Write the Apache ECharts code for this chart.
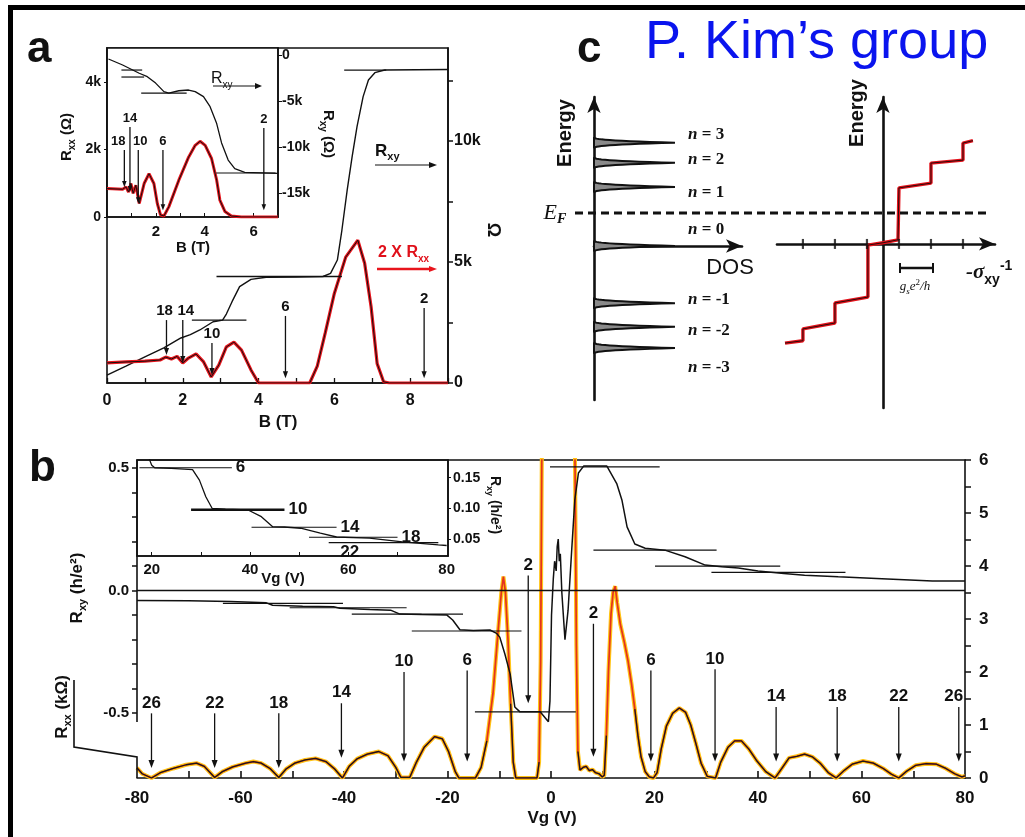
<!DOCTYPE html>
<html>
<head>
<meta charset="utf-8">
<style>
  html, body { margin: 0; padding: 0; background: #fff; }
  #chart { width: 1025px; height: 837px; }
</style>
<script src="https://cdn.jsdelivr.net/npm/echarts@6/dist/echarts.min.js"></script>
</head>
<body>
<div id="chart"></div>
<script>
// ---------------- Panel a: main trace (B in T, resistance in ohm) ----------------
const A_B_RXY = [0, 0.5, 1.0, 1.5, 1.95, 2.2, 2.45, 2.8, 2.95, 3.05, 3.15, 3.3, 3.5, 3.8, 4.2, 5.0, 5.7, 5.9, 6.08, 6.2, 6.34, 6.47, 6.6, 6.76, 6.9, 7.07, 7.33, 9.0];
const A_RXY   = [330, 700, 1080, 1450, 1860, 2000, 2190, 2530, 2570, 2600, 2850, 3360, 3980, 4280, 4370, 4380, 4400, 4530, 5080, 6320, 7980, 9350, 10600, 11830, 12520, 12820, 12930, 12950];
const A_B_RXX = [0, 0.5, 1.0, 1.4, 1.55, 1.7, 1.85, 2.0, 2.15, 2.35, 2.55, 2.75, 2.95, 3.15, 3.35, 3.55, 3.8, 4.0, 5.35, 5.55, 5.76, 6.0, 6.3, 6.62, 6.8, 6.97, 7.13, 7.3, 7.45, 9.0];
const A_RXX_X2 = [830, 870, 900, 950, 1070, 990, 1100, 830, 1030, 1200, 870, 250, 740, 1490, 1690, 1360, 540, 0, 0, 700, 2070, 3700, 5200, 5900, 4950, 3150, 800, 50, 0, 0];
// plateau markers [B start, B end, R]
const A_PLATEAUS = [[2.24, 3.68, 2600], [2.89, 6.2, 4400], [6.26, 7.37, 12930]];
// filling-factor arrows [B, R top, R tip]
const A_ARROWS = [[1.57, 2600, 1160], [2.0, 2600, 830], [2.77, 1650, 330], [4.71, 2770, 200], [8.37, 3100, 200]];
const A_ARROW_LABELS = ['18', '14', '10', '6', '2'];
const A_X_TICKS = [0, 1, 2, 3, 4, 5, 6, 7, 8, 9];
const A_X_LABELS = [0, 2, 4, 6, 8];
const A_Y_TICKS = [0, 2500, 5000, 7500, 10000, 12500];
const A_Y_LABELS = [0, 5000, 10000];

// ---------------- Panel a: inset ----------------
const AI_B_RXY = [0.06, 0.64, 1.32, 1.65, 1.99, 2.33, 2.53, 2.94, 3.34, 3.61, 3.95, 4.22, 4.49, 4.69, 4.96, 5.23, 5.64, 7.0];
const AI_RXY   = [-380, -1030, -1930, -2300, -3000, -3930, -4100, -3830, -3750, -3930, -4470, -5560, -7400, -9500, -11360, -12300, -12700, -12800];
const AI_B_RXX = [0.0, 0.64, 0.78, 0.88, 0.98, 1.07, 1.18, 1.32, 1.52, 1.72, 1.92, 2.06, 2.19, 2.33, 2.53, 2.94, 3.34, 3.61, 3.81, 4.02, 4.28, 4.49, 4.62, 4.83, 5.09, 5.5, 7.0];
const AI_RXX   = [840, 820, 890, 740, 990, 700, 940, 400, 990, 1280, 990, 400, 60, 30, 300, 1090, 1770, 2120, 2240, 2120, 1730, 1090, 500, 160, 30, 0, 0];
const AI_PLATEAUS = [[0.59, 1.44, -1580], [0.59, 1.52, -2340], [1.4, 3.26, -4080], [4.47, 6.9, -12770]];
const AI_ARROWS = [[0.71, 1980, 890], [0.94, 2660, 740], [1.28, 1980, 410], [2.29, 1980, 200], [6.42, 2630, 200]];
const AI_ARROW_LABELS = ['18', '14', '10', '6', '2'];
const AI_X_TICKS = [1, 2, 3, 4, 5, 6];
const AI_X_LABELS = [2, 4, 6];
const AI_L_LABELS = [0, 2000, 4000];
const AI_R_LABELS = [0, -5000, -10000, -15000];

// ---------------- Panel c: Landau levels and Hall staircase ----------------
const DOS_LEVELS = [1.75, 1.41, 1.0, 0, -0.97, -1.37, -1.73];
const DOS_LEVEL_NAMES = ['3', '2', '1', '0', '-1', '-2', '-3'];
const STAIR_X = [-3.06, -2.5, -2.5, -1.5, -1.5, -0.47, -0.47, 0, 0.47, 0.5, 1.5, 1.5, 2.5, 2.5, 2.81];
const STAIR_E = [-1.68, -1.64, -1.44, -1.34, -1.0, -0.9, -0.02, 0.02, 0.07, 0.95, 1.03, 1.37, 1.42, 1.71, 1.75];
const STAIR_TICKS = [-2.5, -1.5, -0.5, 0.5, 1.5, 2.5];

// ---------------- Panel b: gate sweep (Vg in V) ----------------
const B_VG_RXX = [-80, -79, -77.2, -75.5, -73, -70.5, -68.5, -67, -65,
  -63.5, -61.5, -59, -57.5, -56, -54.3, -52.6,
  -51.2, -49.5, -47.5, -45.5, -43.5, -41.8, -40.3,
  -39, -37.5, -35.5, -33.3, -31.5, -30, -29, -27.3,
  -26, -24.5, -22.5, -21, -19.8, -18.5, -17.8, -14.6,
  -13.5, -12.4, -11.2, -10.2, -9.6, -9.2, -8.8, -8.3, -7.8, -7.3, -6.8,
  -2.7, -2.3, -2.0, -1.75, -1.5, 1.5, 4.3, 4.6, 4.9, 5.2, 5.6,
  6.2, 6.8, 7.4, 8.0, 8.6, 9.3, 9.9, 10.3, 10.7, 11.1, 11.6, 12.0, 12.4, 12.8, 13.4, 14.2, 14.9, 15.6, 16.2, 16.8, 17.4, 18.2, 19.0, 19.8,
  20.5, 21.3, 22.3, 23.5, 24.8, 26, 27, 28, 29, 30.2, 31.8,
  32.8, 34.2, 35.5, 36.8, 38.2, 39.8, 41.5, 43.3,
  44.6, 46, 47.5, 49, 50.5, 52, 53.6, 55.1,
  56.5, 58.2, 60.3, 62.3, 64.2, 65.8, 67.2,
  68.6, 70.5, 72.5, 74.5, 76.3, 78, 79.4, 80];
const B_RXX = [0.19, 0.08, 0.0, 0.1, 0.18, 0.25, 0.28, 0.22, 0.01,
  0.12, 0.21, 0.28, 0.31, 0.28, 0.18, 0.01,
  0.17, 0.28, 0.34, 0.37, 0.31, 0.17, 0.0,
  0.22, 0.36, 0.45, 0.5, 0.42, 0.2, 0.01, 0.01,
  0.3, 0.58, 0.78, 0.74, 0.5, 0.12, 0.0, 0.0,
  0.2, 0.7, 1.6, 2.8, 3.5, 3.8, 3.5, 2.6, 1.4, 0.3, 0.0,
  0.0, 0.3, 2.2, 6.5, 12, 14, 12, 6.5, 2.5, 0.5, 0.15,
  0.2, 0.22, 0.14, 0.16, 0.1, 0.08, 0.02, 0.05, 0.8, 2.0, 3.1, 3.5, 3.62, 3.3, 2.9, 2.55, 2.2, 1.75, 1.3, 0.8, 0.4, 0.12, 0.02, 0.0,
  0.1, 0.55, 0.98, 1.22, 1.32, 1.24, 1.0, 0.65, 0.28, 0.03, 0.0,
  0.3, 0.58, 0.7, 0.7, 0.55, 0.32, 0.12, 0.0,
  0.18, 0.38, 0.41, 0.45, 0.4, 0.28, 0.1, 0.0,
  0.13, 0.26, 0.32, 0.28, 0.18, 0.07, 0.0,
  0.12, 0.24, 0.27, 0.26, 0.18, 0.08, 0.02, 0.04];
const B_VG_RXY = [-80, -70, -62, -55, -53.8, -48, -42, -40.8, -35, -31, -29.2, -25, -20.1, -19, -17.6, -15, -11.8, -10.5, -9.9, -8.9, -7.9, -7, -6, -2.1, -0.5, -0.2, 0.1, 0.45, 0.7, 1.0, 1.2, 1.4, 1.6, 1.8, 2.1, 2.7, 3.3, 4.0, 4.6, 5.3, 6.3, 10.8, 12.7, 13.7, 14.7, 16.2, 18.2, 22, 25.9, 29.8, 33, 36.2, 40, 45, 49, 55.5, 65, 73.7, 80];
const B_RXY = [-0.04, -0.042, -0.045, -0.05, -0.06, -0.064, -0.066, -0.072, -0.077, -0.08, -0.096, -0.098, -0.1, -0.12, -0.16, -0.163, -0.161, -0.175, -0.19, -0.26, -0.34, -0.475, -0.495, -0.495, -0.535, -0.45, -0.1, 0.05, 0.12, 0.08, 0.18, 0.21, 0.12, 0.15, -0.01, -0.2, -0.08, 0.165, 0.37, 0.48, 0.508, 0.508, 0.437, 0.37, 0.26, 0.19, 0.173, 0.165, 0.138, 0.104, 0.097, 0.092, 0.08, 0.07, 0.063, 0.056, 0.047, 0.039, 0.039];
const B_PLATEAUS = [[-63.4, -40.2, -0.052], [-50.5, -27.9, -0.07], [-38.5, -17, -0.096], [-26.9, -5.7, -0.165], [-14.7, 4.8, -0.495],
  [-0.2, 21, 0.505], [8.2, 32, 0.165], [20.1, 44.3, 0.1], [31, 56.9, 0.074]];
const B_ARROWS = [[-77.2, 1.22, 0.19], [-65, 1.22, 0.19], [-52.6, 1.22, 0.19], [-40.5, 1.41, 0.38], [-28.4, 2.0, 0.31], [-16.2, 2.03, 0.31], [-4.4, 3.82, 1.41],
  [8.2, 2.91, 0.4], [19.3, 2.03, 0.31], [31.7, 2.05, 0.31], [43.5, 1.34, 0.31], [55.3, 1.34, 0.31], [67.2, 1.34, 0.31], [78.8, 1.34, 0.31]];
const B_ARROW_LABELS = ['26', '22', '18', '14', '10', '6', '2', '2', '6', '10', '14', '18', '22', '26'];
const B_X_TICKS = [-70, -60, -50, -40, -30, -20, -10, 0, 10, 20, 30, 40, 50, 60, 70];
const B_X_LABELS = [-80, -60, -40, -20, 0, 20, 40, 60, 80];
const B_L_TICKS = [-0.5, -0.4, -0.3, -0.2, -0.1, 0, 0.1, 0.2, 0.3, 0.4, 0.5];
const B_L_LABELS = [-0.5, 0, 0.5];
const B_R_TICKS = [0, 0.5, 1, 1.5, 2, 2.5, 3, 3.5, 4, 4.5, 5, 5.5, 6];
const B_R_LABELS = [0, 1, 2, 3, 4, 5, 6];

// ---------------- Panel b: inset (electron side) ----------------
const BI_VG = [19.2, 19.6, 20.0, 20.6, 24, 28.3, 29.7, 31, 32.3, 35, 39.6, 42.3, 44.6, 47, 50.3, 54.3, 57.6, 64.3, 71, 78.3, 80];
const BI_RXY = [0.19, 0.178, 0.17, 0.166, 0.165, 0.163, 0.146, 0.119, 0.1, 0.099, 0.0976, 0.0867, 0.0705, 0.07, 0.068, 0.06, 0.0538, 0.052, 0.046, 0.041, 0.04];
const BI_PLATEAUS = [[17.5, 36.3, 0.166], [28, 47, 0.098], [40.3, 57.6, 0.0695], [52, 70, 0.0533], [56, 78.3, 0.0446]];
const BI_PLATEAU_LABELS = ['6', '10', '14', '18', '22'];
const BI_X_TICKS = [20, 30, 40, 50, 60, 70];
const BI_X_LABELS = [20, 40, 60, 80];
const BI_Y_LABELS = [0.05, 0.10, 0.15];

// ---------------- helpers ----------------
const FONT = '"Liberation Sans", Arial, sans-serif';
const SERIF = '"Liberation Serif", "DejaVu Serif", serif';
const zip = (xs, ys) => xs.map((x, i) => [x, ys[i]]);
const kFmt = v => (v === 0 ? '0' : (v / 1000) + 'k');
// thin dark core of the Rxx trace, dropped where the trace is tall (there it is red)
const CORE_LIMIT = 1.6;
// horizontal nudges (px) for crowded arrow labels
const A_LABEL_DX = [-2, 3, 0, 0, 0];
const AI_LABEL_DX = [-6, 0, 2, 0, 0];
const B_LABEL_DX = [0, 0, 0, 0, 0, 0, 0, 0, 0, 0, 0, 0, 0, -5];

function segmentRenderer(width, labels, labelFont) {
  return function (params, api) {
    const y = api.value(2);
    const p1 = api.coord([api.value(0), y]);
    const p2 = api.coord([api.value(1), y]);
    const lbl = labels ? labels[params.dataIndex] : null;
    const w = (lbl === '10') ? 2.6 : width;
    const kids = [{ type: 'line', shape: { x1: p1[0], y1: p1[1], x2: p2[0], y2: p2[1] }, style: { stroke: '#111', lineWidth: w } }];
    if (lbl) {
      const below = lbl === '22';
      kids.push({
        type: 'text',
        x: below ? p2[0] - 98 : p2[0] + 4,
        y: below ? p1[1] + 1 : p1[1],
        style: { text: lbl, font: labelFont, fill: '#111', align: 'left', verticalAlign: below ? 'top' : 'middle' }
      });
    }
    return { type: 'group', children: kids };
  };
}

function arrowRenderer(labels, dx, labelFont, head, half) {
  return function (params, api) {
    const x = api.value(0);
    const p1 = api.coord([x, api.value(1)]);
    const p2 = api.coord([x, api.value(2)]);
    return {
      type: 'group',
      children: [
        { type: 'line', shape: { x1: p1[0], y1: p1[1], x2: p2[0], y2: p2[1] - head + 1 }, style: { stroke: '#111', lineWidth: 1.3 } },
        { type: 'polygon', shape: { points: [[p2[0] - half, p2[1] - head], [p2[0] + half, p2[1] - head], [p2[0], p2[1]]] }, style: { fill: '#111' } },
        { type: 'text', x: p1[0] + dx[params.dataIndex], y: p1[1] - 2, style: { text: labels[params.dataIndex], font: labelFont, fill: '#111', align: 'center', verticalAlign: 'bottom' } }
      ]
    };
  };
}

// spike-shaped density of states for one Landau level
const DOS_PEAK_LEN = 0.547;
const DOS_HALF_W = 0.095;
function dosPeak(params, api) {
  const e = api.value(1);
  const pts = [];
  const n = 30;
  for (let i = 0; i <= n; i++) {
    const t = -1 + 2 * i / n;
    pts.push(api.coord([DOS_PEAK_LEN * Math.pow(1 - Math.abs(t), 2.6), e + t * DOS_HALF_W]));
  }
  return { type: 'polygon', shape: { points: pts }, style: { fill: '#8a8a8a', stroke: '#111', lineWidth: 2 } };
}

const richSub = (size, weight) => ({
  m: { fontSize: size, fontWeight: weight, fontFamily: FONT, lineHeight: size + 6, verticalAlign: 'middle' },
  s: { fontSize: Math.round(size * 0.65), fontWeight: weight, fontFamily: FONT, lineHeight: Math.round(size * 0.7), verticalAlign: 'bottom' },
  p: { fontSize: Math.round(size * 0.65), fontWeight: weight, fontFamily: FONT, lineHeight: Math.round(size * 0.7), verticalAlign: 'top' }
});

function text(x, y, str, font, opts) {
  opts = opts || {};
  return {
    type: 'text', x: x, y: y, rotation: opts.rotation || 0, z: 50,
    style: Object.assign({ text: str, font: font, fill: opts.fill || '#111', align: opts.align || 'center', verticalAlign: opts.va || 'middle' }, opts.rich ? { rich: opts.rich } : {})
  };
}
function hArrow(x1, x2, y, color, width, head) {
  return [
    { type: 'line', z: 50, shape: { x1: x1, y1: y, x2: x2 - head + 1, y2: y }, style: { stroke: color, lineWidth: width } },
    { type: 'polygon', z: 50, shape: { points: [[x2 - head, y - 3], [x2 - head, y + 3], [x2, y]] }, style: { fill: color } }
  ];
}

const AXIS_LINE = { show: true, onZero: false, lineStyle: { color: '#111', width: 1.6 } };
const NO_LINE = { show: false, onZero: false };
const LBL = (size) => ({ color: '#111', fontSize: size, fontWeight: 'bold', fontFamily: FONT });

const chart = echarts.init(document.getElementById('chart'), null, { renderer: 'canvas' });

const series = [];
// panel a main
series.push({ type: 'line', xAxisIndex: 0, yAxisIndex: 0, data: zip(A_B_RXY, A_RXY), symbol: 'none', lineStyle: { color: '#111', width: 1.4 }, z: 3 });
series.push({ type: 'line', xAxisIndex: 0, yAxisIndex: 0, data: zip(A_B_RXX, A_RXX_X2), symbol: 'none', lineStyle: { color: '#e8141c', width: 3.2 }, z: 3 });
series.push({ type: 'line', xAxisIndex: 0, yAxisIndex: 0, data: zip(A_B_RXX, A_RXX_X2), symbol: 'none', lineStyle: { color: '#111', width: 1 }, z: 4 });
series.push({ type: 'custom', xAxisIndex: 0, yAxisIndex: 0, data: A_PLATEAUS, encode: { x: [0, 1], y: 2 }, renderItem: segmentRenderer(1.3), z: 4 });
series.push({ type: 'custom', xAxisIndex: 0, yAxisIndex: 0, data: A_ARROWS, encode: { x: 0, y: [1, 2] }, renderItem: arrowRenderer(A_ARROW_LABELS, A_LABEL_DX, 'bold 15px ' + FONT, 7, 2.6), z: 5 });
// panel a inset
series.push({ type: 'line', xAxisIndex: 1, yAxisIndex: 3, data: zip(AI_B_RXY, AI_RXY), symbol: 'none', lineStyle: { color: '#111', width: 1.3 }, z: 6 });
series.push({ type: 'line', xAxisIndex: 1, yAxisIndex: 2, data: zip(AI_B_RXX, AI_RXX), symbol: 'none', lineStyle: { color: '#e8141c', width: 3 }, z: 6 });
series.push({ type: 'line', xAxisIndex: 1, yAxisIndex: 2, data: zip(AI_B_RXX, AI_RXX), symbol: 'none', lineStyle: { color: '#111', width: 1 }, z: 7 });
series.push({ type: 'custom', xAxisIndex: 1, yAxisIndex: 3, data: AI_PLATEAUS, encode: { x: [0, 1], y: 2 }, renderItem: segmentRenderer(1.2), z: 7 });
series.push({ type: 'custom', xAxisIndex: 1, yAxisIndex: 2, data: AI_ARROWS, encode: { x: 0, y: [1, 2] }, renderItem: arrowRenderer(AI_ARROW_LABELS, AI_LABEL_DX, 'bold 13px ' + FONT, 6, 2.3), z: 8 });
// panel c
series.push({ type: 'custom', xAxisIndex: 2, yAxisIndex: 4, data: DOS_LEVELS.map(e => [0, e]), encode: { x: 0, y: 1 }, renderItem: dosPeak, z: 3 });
series.push({ type: 'line', xAxisIndex: 3, yAxisIndex: 5, data: zip(STAIR_X, STAIR_E), symbol: 'none', lineStyle: { color: '#e3121b', width: 3.4 }, z: 3 });
series.push({ type: 'line', xAxisIndex: 3, yAxisIndex: 5, data: zip(STAIR_X, STAIR_E), symbol: 'none', lineStyle: { color: '#2a0a0a', width: 1 }, z: 4 });
series.push({ type: 'scatter', xAxisIndex: 3, yAxisIndex: 5, data: STAIR_TICKS.map(x => [x, 0]), symbol: 'rect', symbolSize: [2.2, 10], itemStyle: { color: '#111' }, z: 5, silent: true });
// panel b main
series.push({
  type: 'line', xAxisIndex: 4, yAxisIndex: 6, data: zip(B_VG_RXY, B_RXY), symbol: 'none', lineStyle: { color: '#111', width: 1.5 }, z: 6,
  markLine: { silent: true, symbol: ['none', 'none'], label: { show: false }, lineStyle: { color: '#111', width: 1.3, type: 'solid' }, data: [{ yAxis: 0 }] }
});
series.push({ type: 'line', xAxisIndex: 4, yAxisIndex: 7, data: zip(B_VG_RXX, B_RXX), symbol: 'none', lineStyle: { color: '#ffc414', width: 4 }, z: 3 });
series.push({ type: 'line', xAxisIndex: 4, yAxisIndex: 7, data: zip(B_VG_RXX, B_RXX), symbol: 'none', lineStyle: { color: '#e4321d', width: 1.7 }, z: 4 });
series.push({ type: 'line', xAxisIndex: 4, yAxisIndex: 7, data: zip(B_VG_RXX, B_RXX.map(v => (v < CORE_LIMIT ? v : null))), connectNulls: false, symbol: 'none', lineStyle: { color: '#1a1a1a', width: 1.3 }, z: 5 });
series.push({ type: 'custom', xAxisIndex: 4, yAxisIndex: 6, data: B_PLATEAUS, encode: { x: [0, 1], y: 2 }, renderItem: segmentRenderer(1.2), z: 6 });
series.push({ type: 'custom', xAxisIndex: 4, yAxisIndex: 7, data: B_ARROWS, encode: { x: 0, y: [1, 2] }, renderItem: arrowRenderer(B_ARROW_LABELS, B_LABEL_DX, 'bold 17px ' + FONT, 8, 3), z: 7 });
// panel b inset
series.push({ type: 'line', xAxisIndex: 6, yAxisIndex: 8, data: zip(BI_VG, BI_RXY), symbol: 'none', lineStyle: { color: '#111', width: 1.3 }, z: 8 });
series.push({ type: 'custom', xAxisIndex: 6, yAxisIndex: 8, data: BI_PLATEAUS, encode: { x: [0, 1], y: 2 }, renderItem: segmentRenderer(1.1, BI_PLATEAU_LABELS, 'bold 17px ' + FONT), z: 9 });

const graphic = [
  // outer frame
  { type: 'rect', z: 60, shape: { x: 8, y: 5, width: 1017, height: 5 }, style: { fill: '#000' } },
  { type: 'rect', z: 60, shape: { x: 8, y: 5, width: 5, height: 832 }, style: { fill: '#000' } },
  // panel letters and credit
  text(27, 72, 'a', 'bold 44px ' + FONT, { align: 'left', va: 'bottom' }),
  text(577, 72, 'c', 'bold 44px ' + FONT, { align: 'left', va: 'bottom' }),
  text(29, 491, 'b', 'bold 44px ' + FONT, { align: 'left', va: 'bottom' }),
  text(645, 43, 'P. Kim\u2019s group', '54px ' + FONT, { align: 'left', fill: '#0a14ee' }),
  // panel a titles
  text(278, 422, 'B (T)', 'bold 17px ' + FONT),
  text(493, 230, '\u03a9', 'bold 18px ' + FONT, { rotation: -Math.PI / 2 }),
  text(193, 248, 'B (T)', 'bold 15px ' + FONT),
  text(67, 137, '{m|R}{s|xx}{m| (\u03a9)}', '', { rotation: Math.PI / 2, rich: richSub(15, 'bold') }),
  text(328, 134, '{m|R}{s|xy}{m| (\u03a9)}', '', { rotation: -Math.PI / 2, rich: richSub(15, 'bold') }),
  text(375, 151, '{m|R}{s|xy}', '', { align: 'left', rich: richSub(17, 'bold') }),
  ...hArrow(375, 437, 165, '#111', 1.2, 8),
  text(378, 253, '{m|2 X R}{s|xx}', '', { align: 'left', fill: '#e0101a', rich: richSub(16, 'bold') }),
  ...hArrow(377, 437, 269, '#e8141c', 2.4, 8),
  text(211, 79, '{m|R}{s|xy}', '', { align: 'left', rich: richSub(16, 'normal') }),
  ...hArrow(213, 262, 86, '#111', 1.2, 7),
  // panel c annotations
  text(565, 133, 'Energy', 'bold 20px ' + FONT, { rotation: Math.PI / 2 }),
  text(857, 113, 'Energy', 'bold 20px ' + FONT, { rotation: Math.PI / 2 }),
  text(730, 268, 'DOS', '22px ' + FONT),
  { type: 'line', z: 40, shape: { x1: 575, y1: 213, x2: 988, y2: 213 }, style: { stroke: '#111', lineWidth: 3, lineDash: [8, 5] } },
  text(555, 213, '{e|E}{f|F}', '', { rich: { e: { fontSize: 22, fontStyle: 'italic', fontFamily: SERIF, lineHeight: 26, verticalAlign: 'middle' }, f: { fontSize: 14, fontStyle: 'italic', fontWeight: 'bold', fontFamily: SERIF, lineHeight: 14, verticalAlign: 'bottom' } } }),
  { type: 'line', z: 40, shape: { x1: 900, y1: 268, x2: 933, y2: 268 }, style: { stroke: '#111', lineWidth: 2.5 } },
  { type: 'line', z: 40, shape: { x1: 900, y1: 263, x2: 900, y2: 273 }, style: { stroke: '#111', lineWidth: 2 } },
  { type: 'line', z: 40, shape: { x1: 933, y1: 263, x2: 933, y2: 273 }, style: { stroke: '#111', lineWidth: 2 } },
  text(915, 287, '{m|g}{s|s}{m|e}{p|2}{m|/h}', '', { rich: {
    m: { fontSize: 13, fontStyle: 'italic', fontFamily: SERIF, lineHeight: 18, verticalAlign: 'middle' },
    s: { fontSize: 9, fontStyle: 'italic', fontFamily: SERIF, lineHeight: 9, verticalAlign: 'bottom' },
    p: { fontSize: 9, fontFamily: SERIF, lineHeight: 9, verticalAlign: 'top' } } }),
  text(966, 273, '{m|-\u03c3}{s|xy}{p|-1}', '', { align: 'left', rich: {
    m: { fontSize: 21, fontWeight: 'bold', fontStyle: 'italic', fontFamily: SERIF, lineHeight: 28, verticalAlign: 'middle' },
    s: { fontSize: 14, fontWeight: 'bold', fontFamily: FONT, lineHeight: 12, verticalAlign: 'bottom' },
    p: { fontSize: 14, fontWeight: 'bold', fontFamily: FONT, lineHeight: 12, verticalAlign: 'top' } } }),
  // panel b titles and broken left axis
  { type: 'polyline', z: 40, shape: { points: [[137, 460], [137, 722]] }, style: { stroke: '#111', lineWidth: 1.6, fill: null } },
  { type: 'polyline', z: 40, shape: { points: [[74, 680], [74, 747], [137, 757], [137, 778]] }, style: { stroke: '#111', lineWidth: 1.6, fill: null } },
  text(552, 818, 'Vg (V)', 'bold 17px ' + FONT),
  text(283, 579, 'Vg (V)', 'bold 15px ' + FONT),
  text(77, 588, '{m|R}{s|xy}{m| (h/e\u00b2)}', '', { rotation: Math.PI / 2, rich: richSub(17, 'bold') }),
  text(62, 707, '{m|R}{s|xx}{m| (k\u03a9)}', '', { rotation: Math.PI / 2, rich: richSub(17, 'bold') }),
  text(495, 505, '{m|R}{s|xy}{m| (h/e\u00b2)}', '', { rotation: -Math.PI / 2, rich: richSub(14, 'bold') })
];

// Landau level labels beside the DOS spikes
const DOS_LABEL_Y = [135, 160, 193, 230, 300, 331, 368];
DOS_LEVEL_NAMES.forEach((nm, i) => {
  graphic.push(text(688, DOS_LABEL_Y[i], '{n|n}{r| = ' + nm + '}', '', { align: 'left', rich: {
    n: { fontSize: 17, fontStyle: 'italic', fontWeight: 'bold', fontFamily: SERIF },
    r: { fontSize: 17, fontWeight: 'bold', fontFamily: SERIF } } }));
});

const option = {
  animation: false,
  backgroundColor: '#fff',
  textStyle: { fontFamily: FONT },
  grid: [
    { left: 107, top: 48, width: 341, height: 335, show: true, borderColor: '#111', borderWidth: 1.6, backgroundColor: 'transparent' },
    { left: 107, top: 48, width: 171, height: 169, show: true, borderColor: '#111', borderWidth: 1.6, backgroundColor: '#fff' },
    { left: 594, top: 97, width: 148, height: 303 },
    { left: 777, top: 97, width: 218, height: 311 },
    { left: 137, top: 460, width: 828, height: 318 },
    { left: 137, top: 460, width: 311, height: 96, show: true, borderColor: '#111', borderWidth: 1.6, backgroundColor: '#fff' }
  ],
  xAxis: [
    { gridIndex: 0, type: 'value', min: 0, max: 9, axisLine: AXIS_LINE, splitLine: { show: false },
      axisTick: { inside: true, length: 5, customValues: A_X_TICKS, lineStyle: { color: '#111', width: 1.3 } },
      axisLabel: Object.assign(LBL(16), { customValues: A_X_LABELS, margin: 10 }) },
    { gridIndex: 1, type: 'value', min: 0, max: 7, axisLine: AXIS_LINE, splitLine: { show: false },
      axisTick: { inside: true, length: 4, customValues: AI_X_TICKS, lineStyle: { color: '#111' } },
      axisLabel: Object.assign(LBL(15), { customValues: AI_X_LABELS, margin: 7 }) },
    { gridIndex: 2, type: 'value', min: 0, max: 1, splitLine: { show: false }, axisTick: { show: false }, axisLabel: { show: false },
      axisLine: { show: true, onZero: true, symbol: ['none', 'arrow'], symbolSize: [10, 16], lineStyle: { color: '#111', width: 2.6 } } },
    { gridIndex: 3, type: 'value', min: -3.31, max: 3.5, splitLine: { show: false }, axisTick: { show: false }, axisLabel: { show: false },
      axisLine: { show: true, onZero: true, symbol: ['none', 'arrow'], symbolSize: [10, 16], lineStyle: { color: '#111', width: 2.6 } } },
    { gridIndex: 4, type: 'value', min: -80, max: 80, axisLine: AXIS_LINE, splitLine: { show: false },
      axisTick: { inside: true, length: 7, customValues: B_X_TICKS, lineStyle: { color: '#111', width: 1.6 } },
      axisLabel: Object.assign(LBL(17), { customValues: B_X_LABELS, margin: 12 }) },
    { gridIndex: 4, type: 'value', position: 'top', min: -80, max: 80, axisLine: AXIS_LINE, axisTick: { show: false }, axisLabel: { show: false }, splitLine: { show: false } },
    { gridIndex: 5, type: 'value', min: 17, max: 80.27, axisLine: AXIS_LINE, splitLine: { show: false },
      axisTick: { inside: true, length: 4, customValues: BI_X_TICKS, lineStyle: { color: '#111' } },
      axisLabel: Object.assign(LBL(15), { customValues: BI_X_LABELS, margin: 6 }) }
  ],
  yAxis: [
    { gridIndex: 0, type: 'value', position: 'right', min: 0, max: 13840, axisLine: AXIS_LINE, splitLine: { show: false },
      axisTick: { show: true, length: 5, customValues: A_Y_TICKS, lineStyle: { color: '#111', width: 1.5 } },
      axisLabel: Object.assign(LBL(16), { customValues: A_Y_LABELS, formatter: kFmt, margin: 6 }) },
    { gridIndex: 0, type: 'value', position: 'left', min: 0, max: 13840, show: false, axisLine: NO_LINE },
    { gridIndex: 1, type: 'value', position: 'left', min: 0, max: 5000, axisLine: AXIS_LINE, splitLine: { show: false },
      axisTick: { show: true, length: 3, customValues: AI_L_LABELS, lineStyle: { color: '#111' } },
      axisLabel: Object.assign(LBL(14), { customValues: AI_L_LABELS, formatter: kFmt, margin: 6 }) },
    { gridIndex: 1, type: 'value', position: 'right', min: -17550, max: 815, axisLine: AXIS_LINE, splitLine: { show: false },
      axisTick: { show: true, length: 4, customValues: AI_R_LABELS, lineStyle: { color: '#111' } },
      axisLabel: Object.assign(LBL(14), { customValues: AI_R_LABELS, formatter: kFmt, margin: 4 }) },
    { gridIndex: 2, type: 'value', min: -2.61, max: 2.525, splitLine: { show: false }, axisTick: { show: false }, axisLabel: { show: false },
      axisLine: { show: true, onZero: true, symbol: ['none', 'arrow'], symbolSize: [10, 16], lineStyle: { color: '#111', width: 2.6 } } },
    { gridIndex: 3, type: 'value', min: -2.78, max: 2.49, splitLine: { show: false }, axisTick: { show: false }, axisLabel: { show: false },
      axisLine: { show: true, onZero: true, symbol: ['none', 'arrow'], symbolSize: [10, 16], lineStyle: { color: '#111', width: 2.6 } } },
    { gridIndex: 4, type: 'value', position: 'left', min: -0.765, max: 0.533, axisLine: NO_LINE, splitLine: { show: false },
      axisTick: { show: true, length: 5, customValues: B_L_TICKS, lineStyle: { color: '#111', width: 1.5 } },
      axisLabel: Object.assign(LBL(15), { customValues: B_L_LABELS, formatter: v => v.toFixed(1), margin: 8 }) },
    { gridIndex: 4, type: 'value', position: 'right', min: 0, max: 6, axisLine: AXIS_LINE, splitLine: { show: false },
      axisTick: { show: true, length: 6, customValues: B_R_TICKS, lineStyle: { color: '#111', width: 1.5 } },
      axisLabel: Object.assign(LBL(17), { customValues: B_R_LABELS, margin: 14 }) },
    { gridIndex: 5, type: 'value', position: 'right', min: 0.023, max: 0.1786, axisLine: AXIS_LINE, splitLine: { show: false },
      axisTick: { show: true, length: 3, customValues: BI_Y_LABELS, lineStyle: { color: '#111' } },
      axisLabel: Object.assign(LBL(14), { customValues: BI_Y_LABELS, formatter: v => v.toFixed(2), margin: 5 }) }
  ],
  series: series,
  graphic: graphic
};

chart.setOption(option);
</script>
</body>
</html>
